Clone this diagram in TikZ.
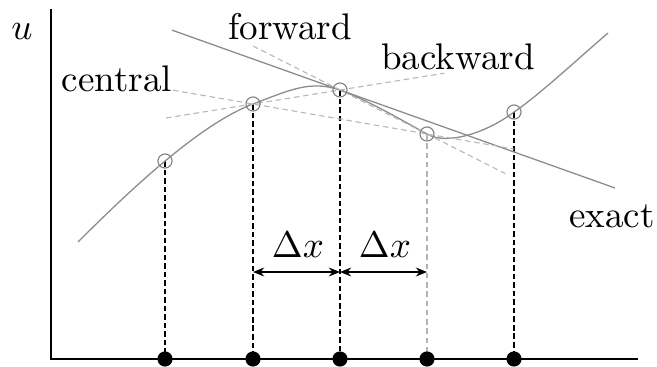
\documentclass[tikz,border=0pt]{standalone}
\usetikzlibrary{calc,arrows.meta}
\begin{document}
\begin{tikzpicture}[x=0.27pt,y=-0.27pt,
  axisline/.style={line width=0.8pt,black},
  curveline/.style={line width=0.35pt,black!45},
  exactline/.style={line width=0.35pt,black!45},
  secline/.style={line width=0.3pt,black!28,dash pattern=on 1.5pt off 1pt},
  dropline/.style={line width=0.65pt,black,dash pattern=on 1.5pt off 0.8pt},
  faintdrop/.style={line width=0.3pt,black!30,dash pattern=on 1.5pt off 1pt},
  gridpt/.style={circle,draw=black!50,line width=0.3pt,minimum size=3.8pt,inner sep=0pt},
  axisdot/.style={circle,fill=black,minimum size=4.1pt,inner sep=0pt},
  dxarrow/.style={line width=0.55pt,{Stealth[length=3pt,width=2.4pt]}-{Stealth[length=3pt,width=2.4pt]}},
  lbl/.style={anchor=base,inner sep=0pt}]
\useasboundingbox (0,0) rectangle (657,367);
% axes
\coordinate (O) at (51,359);
\coordinate (ytop) at (51,9);
\coordinate (xend) at (638,359);
\draw[axisline] (ytop) -- (O) -- (xend);
% grid points
\coordinate (p1) at (165,161);
\coordinate (p2) at (253,104);
\coordinate (p3) at (340,90);
\coordinate (p4) at (427,134);
\coordinate (p5) at (514,112);
% axis dot positions
\coordinate (b1) at (165,359);
\coordinate (b2) at (253,359);
\coordinate (b3) at (340,359);
\coordinate (b4) at (427,359);
\coordinate (b5) at (514,359);
% drop lines
\draw[dropline] (p1) -- (b1);
\draw[dropline] (p2) -- (b2);
\draw[dropline] (p3) -- (b3);
\draw[faintdrop] (p4) -- (b4);
\draw[dropline] (p5) -- (b5);
% axis dots
\node[axisdot] (d1) at (b1) {};
\node[axisdot] (d2) at (b2) {};
\node[axisdot] (d3) at (b3) {};
\node[axisdot] (d4) at (b4) {};
\node[axisdot] (d5) at (b5) {};
% exact curve
\draw[curveline] (78,242) .. controls (130,190) and (200,124) .. (p2)
  .. controls (290,90) and (310,80) .. (p3)
  .. controls (370,101) and (410,125) .. (p4)
  .. controls (447,146) and (488,132) .. (p5)
  .. controls (538,96) and (580,57) .. (608,33);
% tangent (exact)
\coordinate (tend) at (615,188);
\draw[exactline] ($(p3)!-0.611!(tend)$) -- (tend);
% secants
\draw[secline] ($(p3)!-1!(p4)$) -- ($(p3)!1.9!(p4)$);
\draw[secline] ($(p2)!-1!(p3)$) -- ($(p2)!2.2!(p3)$);
\draw[secline] ($(p2)!-0.46!(p4)$) -- ($(p2)!1.5!(p4)$);
% circles at grid points
\node[gridpt] (c1) at (p1) {};
\node[gridpt] (c2) at (p2) {};
\node[gridpt] (c3) at (p3) {};
\node[gridpt] (c4) at (p4) {};
\node[gridpt] (c5) at (p5) {};
% delta x arrows
\coordinate (a2) at (253,272);
\coordinate (a3) at (340,272);
\coordinate (a4) at (427,272);
\draw[dxarrow] (a2) -- (a3);
\draw[dxarrow] (a3) -- (a4);
\node[lbl] (dx1) at (298,257) {$\Delta x$};
\node[lbl] (dx2) at (385,257) {$\Delta x$};
% labels
\node[lbl] (u) at (22,40) {$u$};
\node[lbl] (fw) at (290,40) {forward};
\node[lbl] (bw) at (458,70) {backward};
\node[lbl] (ce) at (117,92) {central};
\node[lbl] (ex) at (612,227) {exact};
\end{tikzpicture}
\end{document}
